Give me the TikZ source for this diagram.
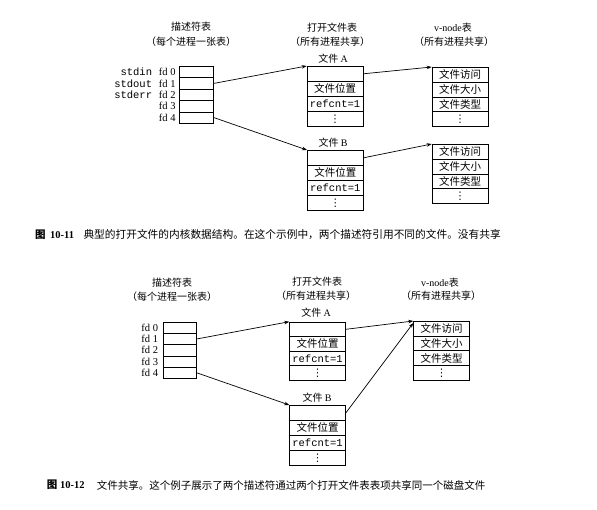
\documentclass[tikz,border=0pt]{standalone}
\usepackage{fontspec}
\setmainfont{Liberation Serif}
\setmonofont{Liberation Mono}
\newfontfamily\cjk{Noto Sans CJK SC}
\newfontfamily\dejavu{DejaVu Sans}
\usetikzlibrary{arrows.meta}

\begin{document}
\begin{tikzpicture}[x=1pt,y=-1pt,
 cell/.style={draw, line width=0.6pt, inner sep=0pt, anchor=north west},
 dcell/.style={cell, minimum width=34pt, minimum height=11.4pt},
 dcellb/.style={cell, minimum width=33pt, minimum height=11.3pt},
 fcell/.style={cell, minimum width=56pt, minimum height=15pt},
 vcell/.style={cell, minimum width=56pt, minimum height=14.8pt},
 ctext/.style={inner sep=0pt, font=\fontsize{10.5}{12}\selectfont\cjk},
 mtext/.style={inner sep=0pt, font=\fontsize{10.5}{12}\selectfont\ttfamily},
 dots/.style={inner sep=0pt, font=\fontsize{10.5}{12}\selectfont\dejavu},
 hdr/.style={inner sep=0pt, font=\fontsize{10}{12}\selectfont\cjk},
 lab/.style={inner sep=0pt, anchor=east, font=\fontsize{10.5}{12}\selectfont\rmfamily},
 mono/.style={inner sep=0pt, anchor=east, font=\fontsize{10.5}{12}\selectfont\ttfamily},
 arr/.style={-{Stealth[length=5pt,width=3.5pt]}, line width=0.7pt},
 captext/.style={inner sep=0pt, anchor=west, font=\fontsize{10.5}{12}\selectfont\cjk}
]
\fill[white] (0,0) rectangle (597,510);
\useasboundingbox (0,0) rectangle (597,510);

% ===== Figure 10-11 =====
\node[hdr] (h1a) at (191,27) {描述符表};
\node[hdr] (h1b) at (191,42) {（每个进程一张表）};
\node[hdr] (h2a) at (332,28) {打开文件表};
\node[hdr] (h2b) at (330,42) {（所有进程共享）};
\node[hdr] (h3a) at (453,28) {{\rmfamily v-node}表};
\node[hdr] (h3b) at (454,42) {（所有进程共享）};
\node[hdr] (fa) at (333,59) {文件 {\rmfamily A}};
\node[hdr] (fb) at (333,143) {文件 {\rmfamily B}};

\node[dcell] (ta0) at (179.3,66) {};
\node[dcell] (ta1) at (179.3,77.4) {};
\node[dcell] (ta2) at (179.3,88.8) {};
\node[dcell] (ta3) at (179.3,100.2) {};
\node[dcell] (ta4) at (179.3,111.6) {};

\node[lab] (tl0) at ([xshift=-3.5pt]ta0.west) {fd 0};
\node[lab] (tl1) at ([xshift=-3.5pt]ta1.west) {fd 1};
\node[lab] (tl2) at ([xshift=-3.5pt]ta2.west) {fd 2};
\node[lab] (tl3) at ([xshift=-3.5pt]ta3.west) {fd 3};
\node[lab] (tl4) at ([xshift=-3.5pt]ta4.west) {fd 4};
\node[mono] (ts0) at ([xshift=-27pt]ta0.west) {stdin};
\node[mono] (ts1) at ([xshift=-27pt]ta1.west) {stdout};
\node[mono] (ts2) at ([xshift=-27pt]ta2.west) {stderr};

\node[fcell] (tfa0) at (306.7,66) {};
\node[fcell] (tfa1) at (306.7,81) {};
\node[fcell] (tfa2) at (306.7,96) {};
\node[fcell] (tfa3) at (306.7,111) {};
\node[ctext] (tfa1t) at (tfa1.center) {文件位置};
\node[mtext] (tfa2t) at (tfa2.center) {refcnt=1};
\node[dots] (tfa3t) at (tfa3.center) {⋮};

\node[vcell] (tva0) at (431.7,67) {};
\node[vcell] (tva1) at (431.7,81.8) {};
\node[vcell] (tva2) at (431.7,96.6) {};
\node[vcell] (tva3) at (431.7,111.4) {};
\node[ctext] (tva0t) at (tva0.center) {文件访问};
\node[ctext] (tva1t) at (tva1.center) {文件大小};
\node[ctext] (tva2t) at (tva2.center) {文件类型};
\node[dots] (tva3t) at (tva3.center) {⋮};

\node[fcell] (tfb0) at (307,150) {};
\node[fcell] (tfb1) at (307,165) {};
\node[fcell] (tfb2) at (307,180) {};
\node[fcell] (tfb3) at (307,195) {};
\node[ctext] (tfb1t) at (tfb1.center) {文件位置};
\node[mtext] (tfb2t) at (tfb2.center) {refcnt=1};
\node[dots] (tfb3t) at (tfb3.center) {⋮};

\node[vcell] (tvb0) at (431.7,144) {};
\node[vcell] (tvb1) at (431.7,158.8) {};
\node[vcell] (tvb2) at (431.7,173.6) {};
\node[vcell] (tvb3) at (431.7,188.4) {};
\node[ctext] (tvb0t) at (tvb0.center) {文件访问};
\node[ctext] (tvb1t) at (tvb1.center) {文件大小};
\node[ctext] (tvb2t) at (tvb2.center) {文件类型};
\node[dots] (tvb3t) at (tvb3.center) {⋮};

\draw[arr] (ta1.east) -- (tfa0.north west);
\draw[arr] (ta4.east) -- (tfb0.north west);
\draw[arr] (tfa0.east) -- (tva0.north west);
\draw[arr] (tfb0.east) -- (tvb0.north west);

\node[captext] (c1a) at (35,235) {\bfseries 图};
\node[captext] (c1b) at (50,235) {\rmfamily\bfseries 10-11};
\node[captext, font=\fontsize{10.7}{12}\selectfont\cjk] (c1c) at (83.3,235) {典型的打开文件的内核数据结构。在这个示例中，两个描述符引用不同的文件。没有共享};

% ===== Figure 10-12 =====
\node[hdr] (g1a) at (172,283) {描述符表};
\node[hdr] (g1b) at (172,297) {（每个进程一张表）};
\node[hdr] (g2a) at (317,282) {打开文件表};
\node[hdr] (g2b) at (316,296) {（所有进程共享）};
\node[hdr] (g3a) at (440,283) {{\rmfamily v-node}表};
\node[hdr] (g3b) at (441,296) {（所有进程共享）};
\node[hdr] (ga) at (316,313) {文件 {\rmfamily A}};
\node[hdr] (gb) at (317,398) {文件 {\rmfamily B}};

\node[dcellb] (ba0) at (163.3,321.7) {};
\node[dcellb] (ba1) at (163.3,333.0) {};
\node[dcellb] (ba2) at (163.3,344.3) {};
\node[dcellb] (ba3) at (163.3,355.6) {};
\node[dcellb] (ba4) at (163.3,366.9) {};

\node[lab] (bl0) at ([xshift=-5pt]ba0.west) {fd 0};
\node[lab] (bl1) at ([xshift=-5pt]ba1.west) {fd 1};
\node[lab] (bl2) at ([xshift=-5pt]ba2.west) {fd 2};
\node[lab] (bl3) at ([xshift=-5pt]ba3.west) {fd 3};
\node[lab] (bl4) at ([xshift=-5pt]ba4.west) {fd 4};

\node[fcell,minimum height=14.6pt] (bfa0) at (289.3,321.7) {};
\node[fcell,minimum height=14.6pt] (bfa1) at (289.3,336.3) {};
\node[fcell,minimum height=14.6pt] (bfa2) at (289.3,350.9) {};
\node[fcell,minimum height=14.6pt] (bfa3) at (289.3,365.5) {};
\node[ctext] (bfa1t) at (bfa1.center) {文件位置};
\node[mtext] (bfa2t) at (bfa2.center) {refcnt=1};
\node[dots] (bfa3t) at (bfa3.center) {⋮};

\node[vcell,minimum height=14.7pt] (bva0) at (413.3,321) {};
\node[vcell,minimum height=14.7pt] (bva1) at (413.3,335.7) {};
\node[vcell,minimum height=14.7pt] (bva2) at (413.3,350.4) {};
\node[vcell,minimum height=14.7pt] (bva3) at (413.3,365.1) {};
\node[ctext] (bva0t) at (bva0.center) {文件访问};
\node[ctext] (bva1t) at (bva1.center) {文件大小};
\node[ctext] (bva2t) at (bva2.center) {文件类型};
\node[dots] (bva3t) at (bva3.center) {⋮};

\node[fcell] (bfb0) at (289.3,405) {};
\node[fcell] (bfb1) at (289.3,420) {};
\node[fcell] (bfb2) at (289.3,435) {};
\node[fcell] (bfb3) at (289.3,450) {};
\node[ctext] (bfb1t) at (bfb1.center) {文件位置};
\node[mtext] (bfb2t) at (bfb2.center) {refcnt=1};
\node[dots] (bfb3t) at (bfb3.center) {⋮};

\draw[arr] (ba1.east) -- (bfa0.north west);
\draw[arr] (ba4.east) -- (bfb0.north west);
\draw[arr] (bfa0.east) -- (bva0.north west);
\draw[arr] (bfb0.east) -- ([yshift=-2pt]bva0.north west);

\node[captext] (c2a) at (46.7,485) {\bfseries 图};
\node[captext] (c2b) at (60,485) {\rmfamily\bfseries 10-12};
\node[captext] (c2c) at (96.7,485) {文件共享。这个例子展示了两个描述符通过两个打开文件表表项共享同一个磁盘文件};
\end{tikzpicture}
\end{document}
